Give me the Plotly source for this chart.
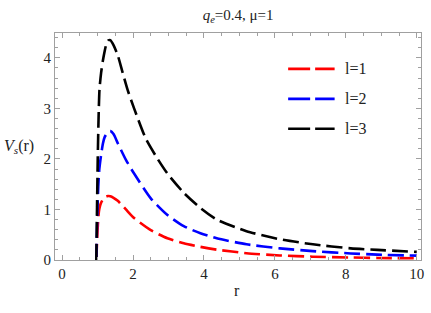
import plotly.graph_objects as go

# ---- data ----
r_l1 = [0.965, 0.985, 1.00, 1.02, 1.04, 1.07, 1.10, 1.15, 1.20, 1.29, 1.36, 1.45, 1.57, 1.80, 2.03,
        2.50, 2.97, 3.43, 3.90, 4.36, 5.20, 6.14, 7.07, 8.14, 8.89, 10.0]
v_l1 = [0.0, 0.35, 0.58, 0.82, 0.97, 1.07, 1.13, 1.20, 1.24, 1.265, 1.26, 1.23, 1.17, 1.00, 0.83,
        0.59, 0.43, 0.33, 0.26, 0.205, 0.135, 0.090, 0.065, 0.049, 0.041, 0.033]

r_l2 = [0.965, 0.985, 1.00, 1.02, 1.05, 1.10, 1.15, 1.20, 1.30, 1.36, 1.45, 1.57, 1.80, 2.03,
        2.50, 2.97, 3.43, 3.90, 4.36, 5.20, 6.14, 7.07, 8.14, 8.89, 10.0]
v_l2 = [0.0, 0.65, 1.05, 1.45, 1.80, 2.08, 2.30, 2.43, 2.54, 2.55, 2.49, 2.31, 1.98, 1.71,
        1.22, 0.89, 0.67, 0.53, 0.43, 0.31, 0.23, 0.175, 0.13, 0.106, 0.086]

r_l3 = [0.965, 0.985, 1.005, 1.03, 1.055, 1.10, 1.147, 1.20, 1.24, 1.30, 1.36, 1.45, 1.57, 1.71,
        1.85, 2.03, 2.36, 2.64, 2.97, 3.43, 3.90, 4.36, 5.20, 6.14, 7.07, 8.14, 8.89, 10.0]
v_l3 = [0.0, 1.05, 2.00, 2.85, 3.38, 3.70, 3.93, 4.13, 4.25, 4.34, 4.35, 4.25, 4.05, 3.70,
        3.36, 3.00, 2.40, 2.06, 1.71, 1.33, 1.03, 0.80, 0.57, 0.41, 0.31, 0.23, 0.20, 0.16]

labels = ["l=1", "l=2", "l=3"]
colors = ["#FF0000", "#0000FF", "#000000"]

x_ticks = [0, 2, 4, 6, 8, 10]
y_ticks = [0, 1, 2, 3, 4]

FONT = "Liberation Serif, Times New Roman, Times, serif"
TXT = "#222222"

fig = go.Figure()
series = [(r_l1, v_l1), (r_l2, v_l2), (r_l3, v_l3)]
for (rr, vv), col, lab in zip(series, colors, labels):
    fig.add_trace(go.Scatter(
        x=rr, y=vv, mode="lines", name=lab, showlegend=False, hoverinfo="skip",
        line=dict(color=col, width=2.6, dash="16px,6px", shape="spline", smoothing=0.6),
    ))

axis_common = dict(
    showline=True, linecolor="#A0A0A0", linewidth=1, mirror="allticks",
    ticks="inside", ticklen=5, tickcolor="#A0A0A0", tickwidth=1,
    showgrid=False, zeroline=False,
    tickfont=dict(family=FONT, size=15, color=TXT),
)

fig.update_xaxes(range=[-0.2, 10.12], tickvals=x_ticks,
                 minor=dict(dtick=0.5, ticks="inside", ticklen=3, tickcolor="#A0A0A0", showgrid=False),
                 **axis_common)
fig.update_yaxes(range=[0, 4.49], tickvals=y_ticks,
                 minor=dict(dtick=0.2, ticks="inside", ticklen=3, tickcolor="#A0A0A0", showgrid=False),
                 **axis_common)

# legend drawn as layout shapes + text (paper coordinates)
legend_y = [0.842, 0.710, 0.578]
shapes = []
annotations = []
for lab, col, ly in zip(labels, colors, legend_y):
    shapes.append(dict(type="line", xref="paper", yref="paper", x0=0.637, x1=0.764, y0=ly, y1=ly,
                       line=dict(color=col, width=2.6, dash="22px,5px")))
    annotations.append(dict(text=lab, xref="paper", yref="paper", x=0.786, y=ly, xanchor="left",
                            yanchor="middle", showarrow=False,
                            font=dict(family=FONT, size=16, color=TXT)))

annotations += [
    dict(text="<i>V</i><sub><i>s</i></sub>(r)", xref="paper", yref="paper", x=0, y=0.5,
         xanchor="right", yanchor="middle", xshift=-19, showarrow=False,
         font=dict(family=FONT, size=16, color=TXT)),
    dict(text="r", xref="paper", yref="paper", x=0.496, y=0, xanchor="center",
         yanchor="middle", yshift=-30, showarrow=False,
         font=dict(family=FONT, size=16, color=TXT)),
]

fig.update_layout(
    width=431, height=313,
    margin=dict(l=55, r=7, t=33, b=53, pad=0),
    paper_bgcolor="white", plot_bgcolor="white",
    font=dict(family=FONT, size=15, color=TXT),
    title=dict(text="<i>q</i><sub><i>e</i></sub>=0.4, μ=1", x=0.5525, xanchor="center",
               y=0.952, yanchor="middle", font=dict(family=FONT, size=15, color=TXT)),
    showlegend=False,
    shapes=shapes,
    annotations=annotations,
)

fig.write_html("out.html", config={"displayModeBar": False},
               post_script="document.body.style.margin='0';")
